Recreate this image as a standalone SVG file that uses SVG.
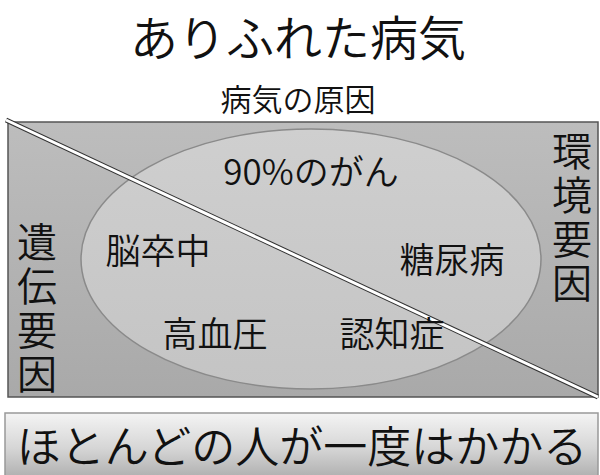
<svg xmlns="http://www.w3.org/2000/svg" width="600" height="475" viewBox="0 0 600 475">
<defs>
<linearGradient id="bg" x1="0" y1="0" x2="0" y2="1">
<stop offset="0" stop-color="#bdbdbd"/>
<stop offset="1" stop-color="#a9a9a9"/>
</linearGradient>
<linearGradient id="el" x1="0" y1="0" x2="0" y2="1">
<stop offset="0" stop-color="#cfcfcf"/>
<stop offset="1" stop-color="#c4c4c4"/>
</linearGradient>
<linearGradient id="bot" x1="0" y1="0" x2="0" y2="1">
<stop offset="0" stop-color="#f4f4f4"/>
<stop offset="0.5" stop-color="#d6d6d6"/>
<stop offset="1" stop-color="#a8a8a8"/>
</linearGradient>
</defs>
<style>
text{font-family:"Noto Sans CJK JP","Noto Sans",sans-serif;fill:#111;font-weight:350;}
.lbl{font-size:35px;text-anchor:middle;}
.vert{font-size:40px;writing-mode:vertical-rl;letter-spacing:4px;}
</style>
<rect width="600" height="475" fill="#fff"/>
<g id="title"><text x="298" y="56" font-size="48" text-anchor="middle">ありふれた病気</text></g>
<g id="subtitle"><text x="298" y="111" font-size="31" text-anchor="middle">病気の原因</text></g>
<g id="frame">
<rect x="8" y="122" width="590" height="275" fill="url(#bg)" stroke="#555" stroke-width="1.5"/>
</g>
<g id="ellipse">
<ellipse cx="311" cy="259" rx="230" ry="130" fill="url(#el)" stroke="#8a8a8a" stroke-width="1.5"/>
</g>
<g id="connectors">
<line x1="6" y1="120" x2="598" y2="397" stroke="#333" stroke-width="5"/>
<line x1="6" y1="120" x2="598" y2="397" stroke="#fff" stroke-width="3"/>
</g>
<g id="cancer"><text class="lbl" x="311" y="185">90%のがん</text></g>
<g id="stroke"><text class="lbl" x="158" y="264">脳卒中</text></g>
<g id="diabetes"><text class="lbl" x="452" y="273">糖尿病</text></g>
<g id="hypertension"><text class="lbl" x="215" y="347">高血圧</text></g>
<g id="dementia"><text class="lbl" x="392" y="347">認知症</text></g>
<g id="genetic">
<text class="vert" x="37" y="222">遺伝要因</text>
</g>
<g id="environment">
<text class="vert" x="572" y="131">環境要因</text>
</g>
<g id="bottom">
<rect x="5" y="413" width="593" height="70" fill="url(#bot)" stroke="#999" stroke-width="1.5"/>
<text x="302" y="463" font-size="44" text-anchor="middle">ほとんどの人が一度はかかる</text>
</g>
</svg>
